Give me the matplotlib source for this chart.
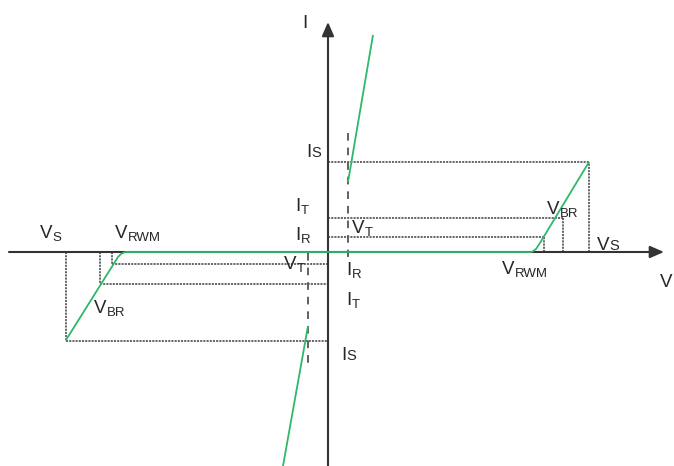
import matplotlib
matplotlib.use("Agg")
import matplotlib.pyplot as plt

plt.rcParams['font.family'] = ['Liberation Sans', 'DejaVu Sans']
plt.rcParams['lines.scale_dashes'] = False

# ---- characteristic curve (V, I) in arbitrary units ----
v_flat = [-203, 204]
i_flat = [0, 0]
v_pos_bd = [204, 208, 212, 215, 261]
i_pos_bd = [0, 3, 9, 14, 90]
v_neg_bd = [-203, -207, -210, -262]
i_neg_bd = [0, -2, -5, -88]
v_pos_fw = [20, 45]
i_pos_fw = [70, 217]
v_neg_fw = [-20, -45]
i_neg_fw = [-74, -214]

# ---- reference levels (V_RWM/V_T, V_BR, V_S) and (I_R, I_T, I_S) ----
v_lvl_pos = [216, 235, 261]
i_lvl_pos = [15, 34, 90]
v_lvl_neg = [-216, -228, -262]
i_lvl_neg = [-12, -32, -89]

# ---- V_T dashed markers ----
vt_x = [20, -20]
vt_top = [119, -1]
vt_bot = [-5, -115]

XLIM = (-328, 346)
YLIM = (-214, 252)

fig = plt.figure(figsize=(6.74, 4.66), dpi=100)
ax = fig.add_axes([0, 0, 1, 1])
ax.set_xlim(*XLIM)
ax.set_ylim(*YLIM)
ax.axis('off')

AX_C = '#333333'
GREEN = '#2eb86a'
DOT_C = '#4d4d4d'
TXT_C = '#262626'

# axes with arrows
ax.annotate('', xy=(336, 0), xytext=(-319, 0),
            arrowprops=dict(arrowstyle='-|>,head_length=0.6,head_width=0.26',
                            lw=1.5, color=AX_C, mutation_scale=14,
                            shrinkA=0, shrinkB=0), zorder=2)
ax.annotate('', xy=(0, 230), xytext=(0, YLIM[0]),
            arrowprops=dict(arrowstyle='-|>,head_length=0.6,head_width=0.26',
                            lw=1.5, color=AX_C, mutation_scale=14,
                            shrinkA=0, shrinkB=0), zorder=2)

dot = dict(color=DOT_C, lw=1.2, linestyle=(0, (1.5, 0.8)), zorder=1)
# positive side dotted guides
for v, i in zip(v_lvl_pos, i_lvl_pos):
    ax.plot([0, v], [i, i], **dot)
    ax.plot([v, v], [0, i], **dot)
# negative side dotted guides
for v, i in zip(v_lvl_neg, i_lvl_neg):
    ax.plot([v, 0], [i, i], **dot)
    ax.plot([v, v], [0, i], **dot)

# V_T dashed markers
for x, t, b in zip(vt_x, vt_top, vt_bot):
    ax.plot([x, x], [t, b], color='#555555', lw=1.3,
            linestyle=(0, (5.5, 5.0)), zorder=1)

# green characteristic
gk = dict(color=GREEN, lw=1.3, zorder=3, solid_capstyle='butt')
ax.plot(v_flat, i_flat, **gk)
ax.plot(v_pos_bd, i_pos_bd, **gk)
ax.plot(v_neg_bd, i_neg_bd, **gk)
ax.plot(v_pos_fw, i_pos_fw, **gk)
ax.plot(v_neg_fw, i_neg_fw, **gk)

FS = 13.5
SFS = 9.5


def lab(x, y, base, sub='', off=0.8, same=False):
    t = ax.text(x, y, base, fontsize=FS, color=TXT_C, ha='left', va='baseline')
    if sub:
        dy = 2.9 if same else off
        ax.annotate(sub, xy=(1, 0), xycoords=t, xytext=(0.2, dy),
                    textcoords='offset points', fontsize=SFS if not same else 10.5,
                    color=TXT_C, ha='left', va='baseline')
    return t


lab(-26, 224, 'I')
lab(-22, 95, 'I', 'S', same=True)
lab(-33, 41, 'I', 'T')
lab(-33, 12, 'I', 'R')
lab(24, 19, 'V', 'T')
lab(18, -23, 'I', 'R')
lab(18, -53, 'I', 'T')
lab(13, -108, 'I', 'S', same=True)
lab(-44, -17, 'V', 'T')
lab(-288, 14, 'V', 'S')
lab(-213, 14, 'V', 'RWM')
lab(-234, -61, 'V', 'BR')
lab(174, -22, 'V', 'RWM')
lab(219, 38, 'V', 'BR')
lab(269, 2, 'V', 'S', same=True)
lab(332, -35, 'V')

fig.savefig('out.png', dpi=100)
